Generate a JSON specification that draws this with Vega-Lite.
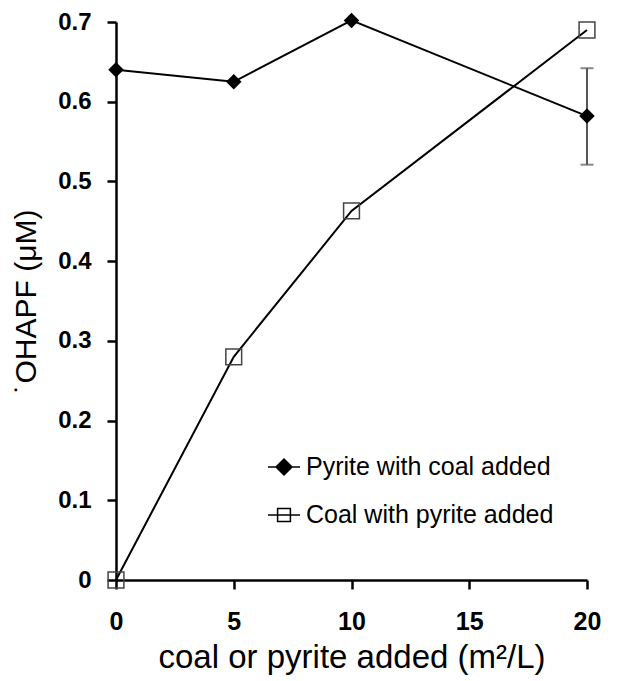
{
  "$schema": "https://vega.github.io/schema/vega-lite/v6.json",
  "width": 471,
  "height": 558,
  "padding": {"left": 116, "top": 22, "right": 30, "bottom": 101},
  "autosize": {"type": "none"},
  "background": "white",
  "config": {
    "view": {"stroke": null},
    "font": "Liberation Sans",
    "axis": {
      "grid": false,
      "labelFlush": false,
      "labelOverlap": false,
      "domainColor": "black",
      "domainWidth": 2.5,
      "tickColor": "black",
      "tickWidth": 2.5,
      "tickSize": 9,
      "labelFont": "Liberation Sans",
      "labelFontWeight": "bold",
      "labelColor": "black",
      "titleFont": "Liberation Sans",
      "titleFontWeight": "normal",
      "titleColor": "black"
    }
  },
  "data": {
    "values": [
      {"series": "Pyrite with coal added", "x": 0, "y": 0.64},
      {"series": "Pyrite with coal added", "x": 5, "y": 0.625},
      {"series": "Pyrite with coal added", "x": 10, "y": 0.702},
      {"series": "Pyrite with coal added", "x": 20, "y": 0.582, "lo": 0.521, "hi": 0.642},
      {"series": "Coal with pyrite added", "x": 0, "y": 0.0},
      {"series": "Coal with pyrite added", "x": 5, "y": 0.28},
      {"series": "Coal with pyrite added", "x": 10, "y": 0.463},
      {"series": "Coal with pyrite added", "x": 20, "y": 0.69}
    ]
  },
  "encoding": {
    "x": {
      "field": "x",
      "type": "quantitative",
      "scale": {"domain": [0, 20], "nice": false, "zero": false},
      "axis": {"values": [0, 5, 10, 15, 20], "title": "coal or pyrite added (m²/L)", "labelFontSize": 25, "labelPadding": 20, "titleFontSize": 33, "titlePadding": 7}
    },
    "y": {
      "field": "y",
      "type": "quantitative",
      "scale": {"domain": [0, 0.7], "nice": false},
      "axis": {"values": [0, 0.1, 0.2, 0.3, 0.4, 0.5, 0.6, 0.7], "title": "˙OHAPF (μM)", "labelFontSize": 24, "labelPadding": 16, "titleFontSize": 30, "titlePadding": 16, "labelExpr": "datum.value == 0 ? '0' : format(datum.value, '.1f')"}
    }
  },
  "layer": [
    {
      "transform": [{"filter": "datum.hi != null"}],
      "mark": {"type": "rule", "color": "#555555", "strokeWidth": 2},
      "encoding": {"y": {"field": "lo", "type": "quantitative"}, "y2": {"field": "hi"}}
    },
    {
      "transform": [{"filter": "datum.hi != null"}],
      "mark": {"type": "tick", "orient": "horizontal", "color": "#555555", "size": 13, "thickness": 2},
      "encoding": {"y": {"field": "lo", "type": "quantitative"}}
    },
    {
      "transform": [{"filter": "datum.hi != null"}],
      "mark": {"type": "tick", "orient": "horizontal", "color": "#555555", "size": 13, "thickness": 2},
      "encoding": {"y": {"field": "hi", "type": "quantitative"}}
    },
    {
      "mark": {"type": "line", "color": "black", "strokeWidth": 2},
      "encoding": {"detail": {"field": "series"}}
    },
    {
      "transform": [{"filter": "datum.series == 'Pyrite with coal added'"}],
      "mark": {"type": "point", "shape": "diamond", "filled": true, "color": "black", "opacity": 1, "size": 240}
    },
    {
      "transform": [{"filter": "datum.series == 'Coal with pyrite added'"}],
      "mark": {"type": "point", "shape": "square", "filled": false, "color": "#444444", "opacity": 1, "strokeWidth": 1.5, "size": 250}
    },
    {
      "mark": {"type": "point", "filled": false, "opacity": 1, "strokeWidth": 1.8},
      "encoding": {
        "shape": {
          "field": "series",
          "type": "nominal",
          "scale": {"domain": ["Pyrite with coal added", "Coal with pyrite added"], "range": ["M-1,0H1M0,-0.5L0.5,0L0,0.5L-0.5,0Z", "M-1,0H1M-0.4,-0.4H0.4V0.4H-0.4Z"]},
          "legend": {
            "title": null,
            "orient": "none",
            "legendX": 151,
            "legendY": 428,
            "symbolSize": 1024,
            "labelFont": "Liberation Sans",
            "labelFontSize": 25,
            "labelColor": "black",
            "labelLimit": 400,
            "labelOffset": 5,
            "rowPadding": 18
          }
        },
        "fill": {
          "field": "series",
          "type": "nominal",
          "scale": {"domain": ["Pyrite with coal added", "Coal with pyrite added"], "range": ["black", "transparent"]},
          "legend": null
        },
        "stroke": {
          "field": "series",
          "type": "nominal",
          "scale": {"domain": ["Pyrite with coal added", "Coal with pyrite added"], "range": ["black", "black"]},
          "legend": null
        },
        "size": {"value": 0}
      }
    }
  ]
}
